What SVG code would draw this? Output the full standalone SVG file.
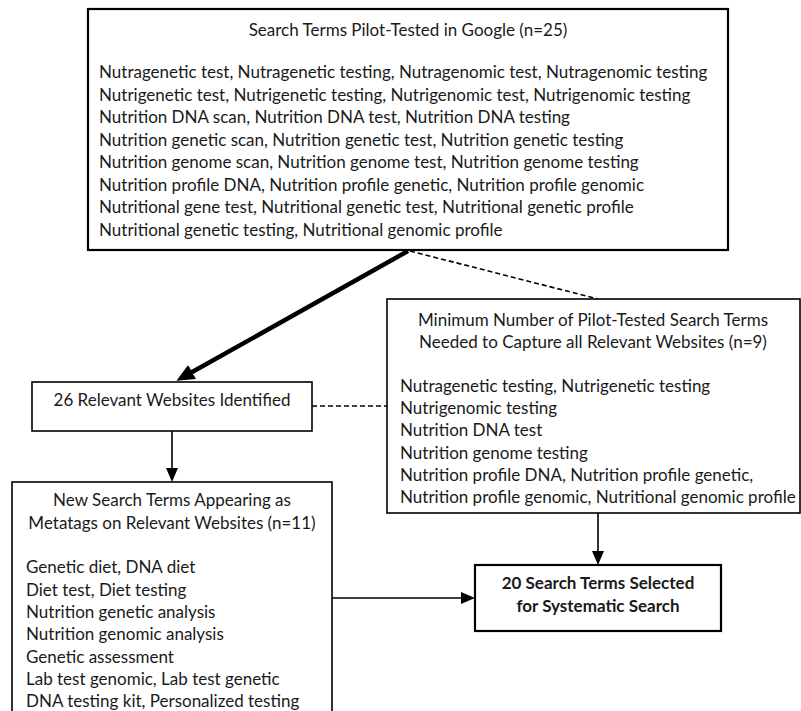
<svg xmlns="http://www.w3.org/2000/svg" width="801" height="711" viewBox="0 0 801 711">
<style>
text{font-family:Lato,"Liberation Sans",sans-serif;font-size:17px;fill:#1a1a1a}
.c{text-anchor:middle}
.b{font-weight:bold}
.box{fill:#fff;stroke:#000;stroke-width:1.6}
.thick{stroke-width:2.2}
.ln{stroke:#000;stroke-width:1.6;fill:none}
.dash{stroke-dasharray:5 3}
</style>
<defs>
<marker id="ah" markerUnits="userSpaceOnUse" markerWidth="14" markerHeight="12" refX="2" refY="6" orient="auto"><path d="M0,0 L14,6 L0,12 z" fill="#000"/></marker>
<marker id="ahb" markerUnits="userSpaceOnUse" markerWidth="18" markerHeight="16" refX="3" refY="8" orient="auto"><path d="M0,0 L18,8 L0,16 z" fill="#000"/></marker>
</defs>
<g id="connectors">
<line class="ln" x1="408" y1="251" x2="189.5" y2="373.5" style="stroke-width:4.5" marker-end="url(#ahb)"/>
<line class="ln dash" x1="410" y1="251" x2="598" y2="299"/>
<line class="ln dash" x1="312" y1="406" x2="387" y2="406"/>
<line class="ln" x1="172" y1="431" x2="172" y2="470" marker-end="url(#ah)"/>
<line class="ln" x1="598" y1="513" x2="598" y2="553" marker-end="url(#ah)"/>
<line class="ln" x1="332" y1="598" x2="463" y2="598" marker-end="url(#ah)"/>
</g>
<g id="pilot">
<rect class="box thick" x="88" y="9" width="640" height="241"/>
<text class="c" x="408" y="36">Search Terms Pilot-Tested in Google (n=25)</text>
<text x="99" y="78">Nutragenetic test, Nutragenetic testing, Nutragenomic test, Nutragenomic testing</text>
<text x="99" y="100.5">Nutrigenetic test, Nutrigenetic testing, Nutrigenomic test, Nutrigenomic testing</text>
<text x="99" y="123">Nutrition DNA scan, Nutrition DNA test, Nutrition DNA testing</text>
<text x="99" y="145.5">Nutrition genetic scan, Nutrition genetic test, Nutrition genetic testing</text>
<text x="99" y="168">Nutrition genome scan, Nutrition genome test, Nutrition genome testing</text>
<text x="99" y="190.5">Nutrition profile DNA, Nutrition profile genetic, Nutrition profile genomic</text>
<text x="99" y="213">Nutritional gene test, Nutritional genetic test, Nutritional genetic profile</text>
<text x="99" y="235.5">Nutritional genetic testing, Nutritional genomic profile</text>
</g>
<g id="minimum">
<rect class="box" x="387" y="299" width="413" height="214"/>
<text class="c" x="593" y="326">Minimum Number of Pilot-Tested Search Terms</text>
<text class="c" x="593" y="348">Needed to Capture all Relevant Websites (n=9)</text>
<text x="400" y="392">Nutragenetic testing, Nutrigenetic testing</text>
<text x="400" y="413.5">Nutrigenomic testing</text>
<text x="400" y="436">Nutrition DNA test</text>
<text x="400" y="458.5">Nutrition genome testing</text>
<text x="400" y="481">Nutrition profile DNA, Nutrition profile genetic,</text>
<text x="400" y="503">Nutrition profile genomic, Nutritional genomic profile</text>
</g>
<g id="websites">
<rect class="box" x="32" y="382" width="280" height="49"/>
<text class="c" x="172" y="406">26 Relevant Websites Identified</text>
</g>
<g id="newterms">
<rect class="box" x="12" y="482" width="320" height="240"/>
<text class="c" x="172" y="506">New Search Terms Appearing as</text>
<text class="c" x="172" y="529">Metatags on Relevant Websites (n=11)</text>
<text x="26" y="573">Genetic diet, DNA diet</text>
<text x="26" y="596">Diet test, Diet testing</text>
<text x="26" y="618">Nutrition genetic analysis</text>
<text x="26" y="640">Nutrition genomic analysis</text>
<text x="26" y="663">Genetic assessment</text>
<text x="26" y="685">Lab test genomic, Lab test genetic</text>
<text x="26" y="707">DNA testing kit, Personalized testing</text>
</g>
<g id="selected">
<rect class="box thick" x="475" y="565" width="246" height="66"/>
<text class="c b" x="598" y="589">20 Search Terms Selected</text>
<text class="c b" x="598" y="612">for Systematic Search</text>
</g>
</svg>
